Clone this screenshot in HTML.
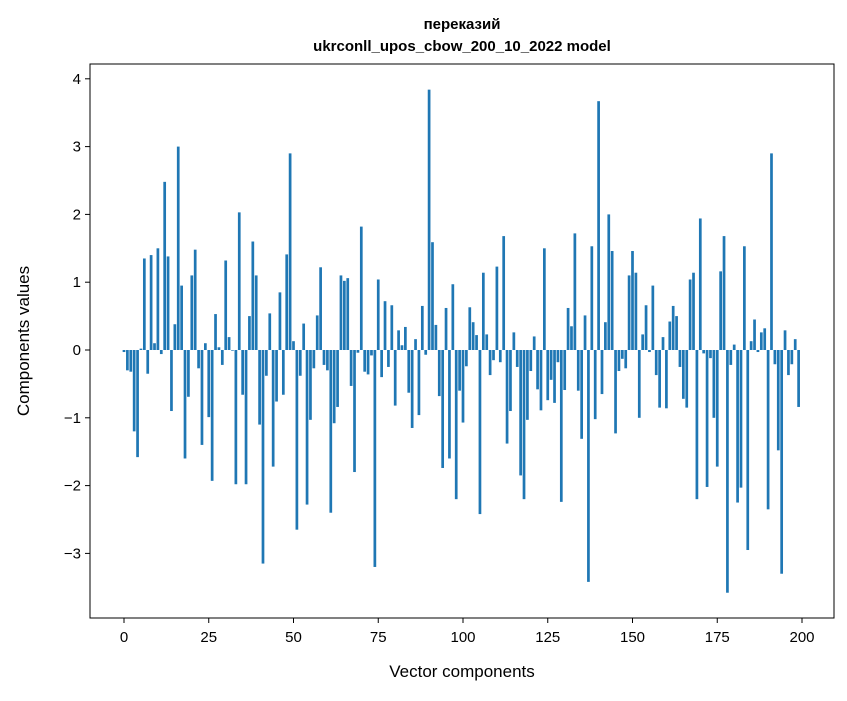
<!DOCTYPE html>
<html><head><meta charset="utf-8"><style>
body{margin:0;background:#fff;}
svg text{font-family:"Liberation Sans","DejaVu Sans",sans-serif;fill:#000;}
</style></head><body>
<svg id="chart" width="847" height="696" xmlns="http://www.w3.org/2000/svg">
<rect width="847" height="696" fill="#fff"/>
<text x="462" y="29" text-anchor="middle" font-size="15" font-weight="bold">переказий</text>
<text x="462" y="51" text-anchor="middle" font-size="15" font-weight="bold">ukrconll_upos_cbow_200_10_2022 model</text>
<g id="bars"></g>
<g id="xticks"></g>
<g id="yticks"></g>
<rect x="90" y="64" width="744" height="554" fill="none" stroke="#000" stroke-width="1"/>
<text x="462" y="677" text-anchor="middle" font-size="17">Vector components</text>
<text transform="translate(29,341) rotate(-90)" text-anchor="middle" font-size="17">Components values</text>
</svg>
<script>
const values = [
-0.03,-0.3,-0.32,-1.2,-1.58,0.02,1.35,-0.35,1.4,0.1,
1.5,-0.06,2.48,1.38,-0.9,0.38,3.0,0.95,-1.6,-0.69,
1.1,1.48,-0.27,-1.4,0.1,-0.99,-1.93,0.53,0.04,-0.22,
1.32,0.19,-0.01,-1.98,2.03,-0.66,-1.98,0.5,1.6,1.1,
-1.1,-3.15,-0.38,0.54,-1.72,-0.76,0.85,-0.66,1.41,2.9,
0.13,-2.65,-0.38,0.39,-2.28,-1.03,-0.27,0.51,1.22,-0.22,
-0.3,-2.4,-1.08,-0.84,1.1,1.02,1.06,-0.53,-1.8,-0.04,
1.82,-0.32,-0.36,-0.08,-3.2,1.04,-0.4,0.72,-0.25,0.66,
-0.82,0.29,0.07,0.34,-0.63,-1.15,0.16,-0.96,0.65,-0.07,
3.84,1.59,0.37,-0.68,-1.74,0.62,-1.6,0.97,-2.2,-0.6,
-1.07,-0.24,0.63,0.41,0.22,-2.42,1.14,0.23,-0.37,-0.15,
1.23,-0.18,1.68,-1.38,-0.9,0.26,-0.25,-1.85,-2.2,-1.03,
-0.31,0.2,-0.58,-0.89,1.5,-0.74,-0.44,-0.78,-0.18,-2.24,
-0.59,0.62,0.35,1.72,-0.6,-1.31,0.51,-3.42,1.53,-1.02,
3.67,-0.65,0.41,2.0,1.46,-1.23,-0.31,-0.13,-0.27,1.1,
1.46,1.14,-1.0,0.23,0.66,-0.03,0.95,-0.37,-0.85,0.19,
-0.86,0.42,0.65,0.5,-0.25,-0.72,-0.85,1.04,1.14,-2.2,
1.94,-0.05,-2.02,-0.12,-1.0,-1.72,1.16,1.68,-3.58,-0.22,
0.08,-2.25,-2.03,1.53,-2.95,0.13,0.45,-0.03,0.26,0.32,
-2.35,2.9,-0.21,-1.48,-3.3,0.29,-0.37,-0.21,0.16,-0.84];
const xTickValues = [0,25,50,75,100,125,150,175,200];
const yTickValues = [-3,-2,-1,0,1,2,3,4];
const NS="http://www.w3.org/2000/svg";
function xs(v){return 124+v*3.39;}
function ys(v){return 350-v*67.8;}
const bars=document.getElementById('bars');
values.forEach((v,i)=>{
  const r=document.createElementNS(NS,'rect');
  
  
  const w=3.39*0.8;
  r.setAttribute('x',xs(i)-w/2);
  r.setAttribute('y',Math.min(ys(v),ys(0)));
  r.setAttribute('width',w);
  r.setAttribute('height',Math.abs(ys(v)-ys(0)));
  r.setAttribute('fill','#1f77b4');
  bars.appendChild(r);
});
const xg=document.getElementById('xticks');
xTickValues.forEach(t=>{
  const l=document.createElementNS(NS,'line');
  
  
  l.setAttribute('x1',xs(t));l.setAttribute('x2',xs(t));
  l.setAttribute('y1',618);l.setAttribute('y2',623);
  l.setAttribute('stroke','#000');
  xg.appendChild(l);
  const tx=document.createElementNS(NS,'text');
  
  
  tx.setAttribute('x',xs(t));tx.setAttribute('y',642);
  tx.setAttribute('text-anchor','middle');tx.setAttribute('font-size','15');
  tx.textContent=t;
  xg.appendChild(tx);
});
const yg=document.getElementById('yticks');
yTickValues.forEach(t=>{
  const l=document.createElementNS(NS,'line');
  
  
  l.setAttribute('x1',85);l.setAttribute('x2',90);
  l.setAttribute('y1',ys(t));l.setAttribute('y2',ys(t));
  l.setAttribute('stroke','#000');
  yg.appendChild(l);
  const tx=document.createElementNS(NS,'text');
  
  
  tx.setAttribute('x',81);tx.setAttribute('y',ys(t)+5);
  tx.setAttribute('text-anchor','end');tx.setAttribute('font-size','15');
  tx.textContent=t<0?'\u2212'+Math.abs(t):String(t);
  yg.appendChild(tx);
});
</script>
</body></html>
